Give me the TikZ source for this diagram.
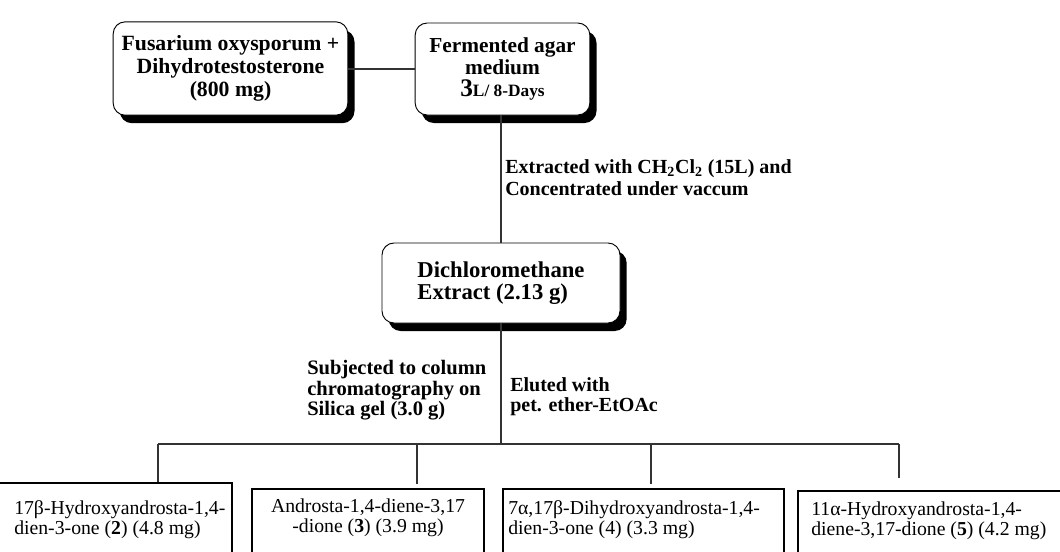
\documentclass[tikz,border=0pt]{standalone}
\usepackage{fontspec}
\setmainfont{Liberation Serif}
\usetikzlibrary{shadows}

\begin{document}
\begin{tikzpicture}[
    x=0.75pt, y=-0.75pt,
    flask/.style={draw, rounded corners=9pt, line width=0.7pt, fill=white, align=center,
                  inner sep=0pt, font=\bfseries\fontsize{16.3}{17.5}\selectfont,
                  drop shadow={shadow xshift=5pt, shadow yshift=-6pt, fill=black, opacity=1}},
    product/.style={draw, line width=2pt, inner sep=0pt, minimum height=75pt},
    prodtext/.style={inner sep=0pt, align=left, anchor=north west, font=\fontsize{14.8}{15}\selectfont},
    steplabel/.style={inner sep=0pt, align=left, anchor=north west, font=\bfseries\fontsize{15}{16.5}\selectfont},
    link/.style={line width=1pt, black!80},
  ]
  \useasboundingbox (0,0) rectangle (1060,551);
  \clip (0,0) rectangle (1060,551);

  % ---------------- Culture and extraction ----------------
  \node[flask, minimum width=176pt, minimum height=70pt] (fus) at (230.5,68.5)
       {Fusarium oxysporum +\\Dihydrotestosterone\\(800 mg)};
  \node[flask, minimum width=131pt, minimum height=69pt, font=\bfseries\fontsize{16}{16.5}\selectfont] (agar) at (502.5,69)
       {Fermented agar\\medium\\{\fontsize{19}{16.5}\selectfont 3}{\fontsize{13}{16.5}\selectfont L/ 8-Days}};
  \node[flask, minimum width=178.5pt, minimum height=60pt, align=left,
        font=\bfseries\fontsize{17}{17}\selectfont] (dcm) at (501,283)
       {Dichloromethane\\Extract (2.13 g)};

  % ---------------- Step labels ----------------
  \node[steplabel] (extr) at (505,159)
       {Extracted with CH\textsubscript{2}Cl\textsubscript{2} (15L) and\\Concentrated under vaccum};
  \node[steplabel, font=\bfseries\fontsize{15.4}{15.4}\selectfont] (subj) at (307,360)
       {Subjected to column\\chromatography on\\Silica gel (3.0 g)};
  \node[steplabel, font=\bfseries\fontsize{15}{15}\selectfont] (elut) at (510,377)
       {Eluted with\\pet. ether-EtOAc};

  % ---------------- Products ----------------
  \node[product, minimum width=181.5pt] (p1) at (111,533) {};
  \node[product, minimum width=174pt]   (p2) at (368,539) {};
  \node[product, minimum width=210.75pt] (p3) at (643.5,539) {};
  \node[product, minimum width=211.5pt] (p4) at (939,541) {};

  \node[prodtext] (t1) at (14,500) {17β-Hydroxyandrosta-1,4-\\dien-3-one (\textbf{2}) (4.8 mg)};
  \node[prodtext, anchor=north, align=center] (t2) at (368,499) {Androsta-1,4-diene-3,17\\-dione (\textbf{3}) (3.9 mg)};
  \node[prodtext] (t3) at (508,500) {7α,17β-Dihydroxyandrosta-1,4-\\dien-3-one (4) (3.3 mg)};
  \node[prodtext] (t4) at (811,502) {11α-Hydroxyandrosta-1,4-\\diene-3,17-dione (\textbf{5}) (4.2 mg)};

  % ---------------- Connections ----------------
  \coordinate (d1) at (158,444);
  \coordinate (d2) at (417,444);
  \coordinate (d3) at (651,444);
  \coordinate (d4) at (899,444);

  \draw[link] (fus.east |- agar.west) -- (agar.west);
  \draw[link] (agar.south -| dcm.north) -- (dcm.north);
  \draw[link] (dcm.south) -- (dcm.south |- d1);
  \draw[link] (d1) -- (d4);
  \draw[link] (d1) -- (d1 |- p1.north);
  \foreach \d/\p in {d2/p2, d3/p3} \draw[link, shorten >=3pt] (\d) -- (\d |- \p.north);
  \draw[link, shorten >=9pt] (d4) -- (d4 |- p4.north);
\end{tikzpicture}
\end{document}
